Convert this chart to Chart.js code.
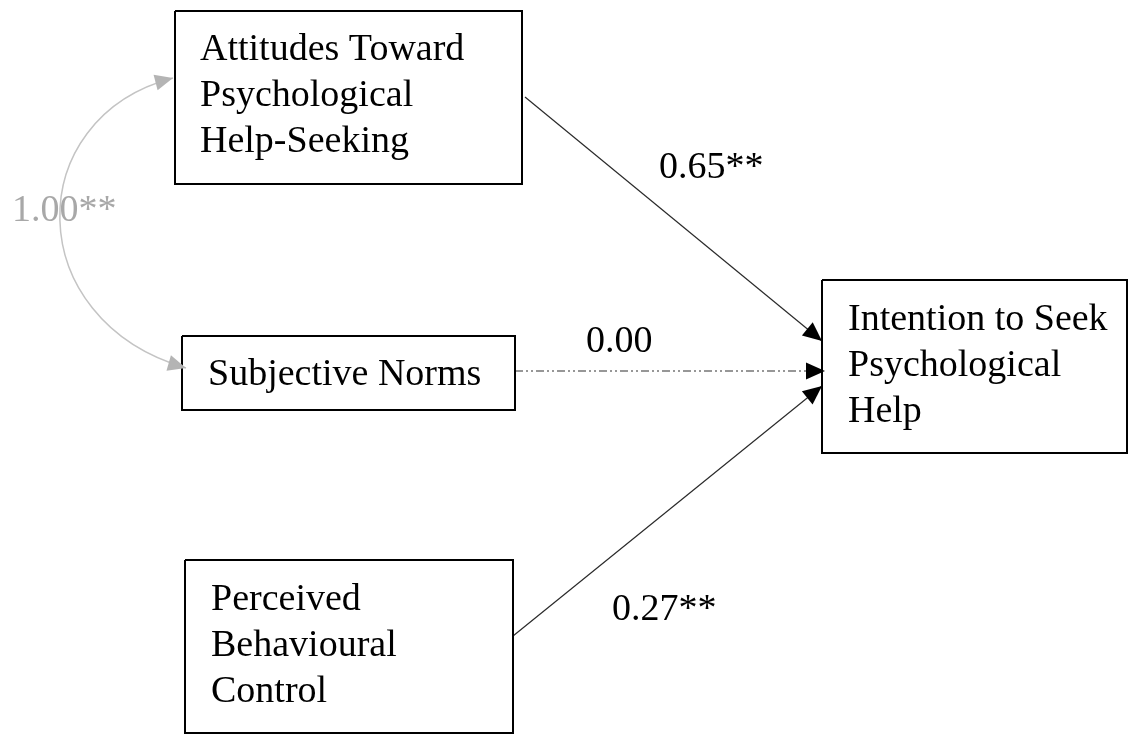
<!DOCTYPE html>
<html><head><meta charset="utf-8">
<script src="https://cdn.jsdelivr.net/npm/chart.js@4.4.1/dist/chart.umd.min.js"></script>
<style>html,body{margin:0;padding:0;background:#fff;overflow:hidden}canvas{display:block}</style>
</head><body>
<canvas id="c" width="1129" height="736"></canvas>
<script>
// ---- content ----
const nodeLabels = [
  ["Attitudes Toward", "Psychological", "Help-Seeking"],
  ["Subjective Norms"],
  ["Perceived", "Behavioural", "Control"],
  ["Intention to Seek", "Psychological", "Help"]
];
const pathFrom = [0, 1, 2];
const pathTo = [3, 3, 3];
const pathCoefficients = ["0.65**", "0.00", "0.27**"];
const pathSignificant = [true, false, true];
const covarianceNodes = [0, 1];
const covarianceLabel = "1.00**";

// ---- layout (diagram space, same units as the hidden axes) ----
const boxes = [
  {x0: 175, y0: 11, x1: 522, y1: 184},
  {x0: 182, y0: 336, x1: 515, y1: 410},
  {x0: 185, y0: 560, x1: 513, y1: 733},
  {x0: 822, y0: 280, x1: 1127, y1: 453}
];
const textOrigins = [[200, 60], [208, 385], [211, 610], [848, 330]];
const lineHeight = 46;
const pathStarts = [[525, 97], [515, 371], [513, 636]];
const pathEnds = [[822, 341], [825, 371], [822, 386]];
const labelOrigins = [[659, 178], [586, 352], [612, 620]];
const covCurve = [[173, 78], [20, 118], [20, 320], [186, 368]];
const covLabelOrigin = [12, 221];

const FONT = '38px "Liberation Serif", "Times New Roman", serif';

const datasets = [];
boxes.forEach(b => {
  datasets.push({
    data: [{x: b.x0, y: b.y0}, {x: b.x1, y: b.y0}, {x: b.x1, y: b.y1}, {x: b.x0, y: b.y1}, {x: b.x0, y: b.y0}],
    showLine: true, borderColor: '#000', borderWidth: 2, pointRadius: 0,
    borderJoinStyle: 'miter', fill: false, tension: 0, kind: 'box'
  });
});
pathFrom.forEach((f, i) => {
  datasets.push({
    data: [{x: pathStarts[i][0], y: pathStarts[i][1]}, {x: pathEnds[i][0], y: pathEnds[i][1]}],
    showLine: true, borderColor: pathSignificant[i] ? '#2a2a2a' : '#303030', borderWidth: 1.2,
    borderDash: pathSignificant[i] ? [] : [8, 3, 2, 3, 2, 3],
    pointRadius: 0, fill: false, tension: 0, kind: 'path'
  });
});

function arrowHead(ctx, tipX, tipY, fromX, fromY, len, half, color) {
  const a = Math.atan2(tipY - fromY, tipX - fromX);
  ctx.save();
  ctx.fillStyle = color;
  ctx.beginPath();
  ctx.moveTo(tipX, tipY);
  ctx.lineTo(tipX - len * Math.cos(a) + half * Math.sin(a), tipY - len * Math.sin(a) - half * Math.cos(a));
  ctx.lineTo(tipX - len * Math.cos(a) - half * Math.sin(a), tipY - len * Math.sin(a) + half * Math.cos(a));
  ctx.closePath();
  ctx.fill();
  ctx.restore();
}

const diagramPlugin = {
  id: 'diagram',
  afterDatasetsDraw(chart) {
    const ctx = chart.ctx;
    const xs = chart.scales.x, ys = chart.scales.y;
    const px = v => xs.getPixelForValue(v), py = v => ys.getPixelForValue(v);

    // arrowheads on paths
    chart.data.datasets.forEach((ds, di) => {
      if (ds.kind !== 'path') return;
      const pts = chart.getDatasetMeta(di).data;
      const a = pts[0], b = pts[pts.length - 1];
      arrowHead(ctx, b.x, b.y, a.x, a.y, 19, 8.5, '#000');
    });

    // covariance curve
    const c = covCurve.map(p => [px(p[0]), py(p[1])]);
    ctx.save();
    ctx.strokeStyle = '#c4c4c4';
    ctx.lineWidth = 1.5;
    ctx.beginPath();
    ctx.moveTo(c[0][0], c[0][1]);
    ctx.bezierCurveTo(c[1][0], c[1][1], c[2][0], c[2][1], c[3][0], c[3][1]);
    ctx.stroke();
    ctx.restore();
    arrowHead(ctx, c[0][0], c[0][1], c[1][0], c[1][1], 18, 8, '#b4b4b4');
    arrowHead(ctx, c[3][0], c[3][1], c[2][0], c[2][1], 18, 8, '#b4b4b4');

    // texts
    ctx.save();
    ctx.font = FONT;
    ctx.textBaseline = 'alphabetic';
    ctx.textAlign = 'left';
    ctx.fillStyle = '#000';
    nodeLabels.forEach((lines, i) => {
      lines.forEach((t, k) => ctx.fillText(t, px(textOrigins[i][0]), py(textOrigins[i][1] + k * lineHeight)));
    });
    pathCoefficients.forEach((t, i) => ctx.fillText(t, px(labelOrigins[i][0]), py(labelOrigins[i][1])));
    ctx.fillStyle = '#a8a8a8';
    ctx.fillText(covarianceLabel, px(covLabelOrigin[0]), py(covLabelOrigin[1]));
    ctx.restore();
  }
};

new Chart(document.getElementById('c'), {
  type: 'scatter',
  data: {datasets},
  options: {
    responsive: false,
    animation: false,
    layout: {padding: 0},
    plugins: {legend: {display: false}, tooltip: {enabled: false}},
    scales: {
      x: {type: 'linear', min: 0, max: 1129, display: false},
      y: {type: 'linear', min: 0, max: 736, reverse: true, display: false}
    }
  },
  plugins: [diagramPlugin]
});
</script>
</body></html>
